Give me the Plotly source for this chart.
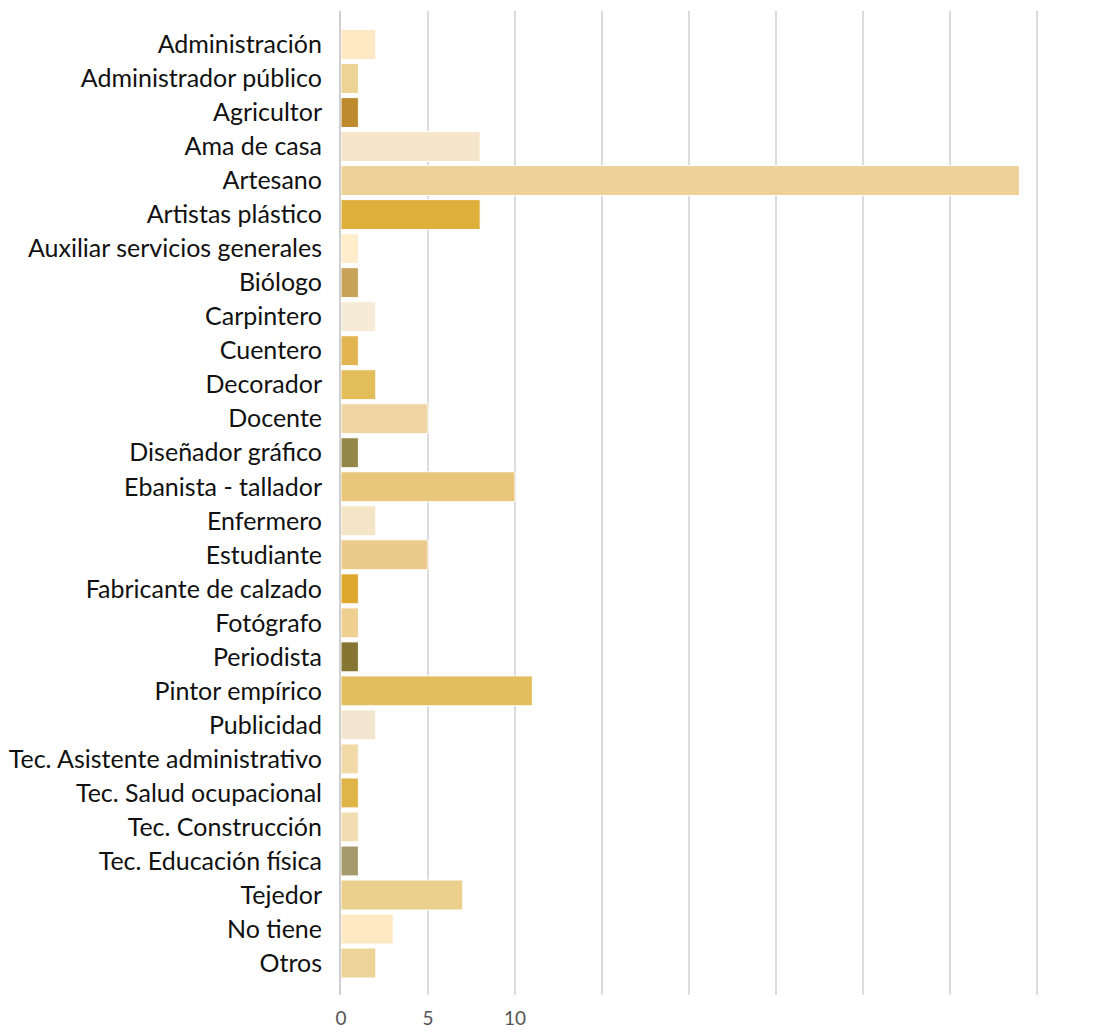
import plotly.graph_objects as go

ocupaciones = [
    "Administración", "Administrador público", "Agricultor", "Ama de casa",
    "Artesano", "Artistas plástico", "Auxiliar servicios generales", "Biólogo",
    "Carpintero", "Cuentero", "Decorador", "Docente", "Diseñador gráfico",
    "Ebanista - tallador", "Enfermero", "Estudiante", "Fabricante de calzado",
    "Fotógrafo", "Periodista", "Pintor empírico", "Publicidad",
    "Tec. Asistente administrativo", "Tec. Salud ocupacional",
    "Tec. Construcción", "Tec. Educación física", "Tejedor", "No tiene", "Otros",
]
cantidad = [2, 1, 1, 8, 39, 8, 1, 1, 2, 1, 2, 5, 1, 10, 2, 5, 1, 1, 1, 11,
            2, 1, 1, 1, 1, 7, 3, 2]
colores = [
    "#FFE8C4", "#EDD395", "#BE8A2E", "#F5E6CB", "#EDD197", "#DEAF3A",
    "#FFEDCC", "#C8A35A", "#F5EBD6", "#E2B552", "#E3BD5A", "#EFD5A3",
    "#938849", "#E8C77A", "#F5E5C7", "#EBCB8C", "#DEA82E", "#EFCF92",
    "#857432", "#E3BD5E", "#F3E6D0", "#F2D9A8", "#E0B548", "#F3DEB3",
    "#A59A6C", "#EBCF8D", "#FFE8C4", "#EDD397",
]
tick_vals = [0, 5, 10, 15, 20, 25, 30, 35, 40]
tick_text = ["0", "5", "10", "", "", "", "", "", ""]

fig = go.Figure()
fig.add_trace(go.Bar(
    x=cantidad,
    y=ocupaciones,
    orientation="h",
    marker=dict(color=colores, line=dict(color="white", width=1)),
    hoverinfo="x+y",
))

# pequeñas marcas en los extremos del eje vertical
for yy in [-0.985, 27.94]:
    fig.add_shape(type="line", xref="x", yref="y", x0=-0.46, x1=0,
                  y0=yy, y1=yy, line=dict(color="#cfcfcf", width=2))

fig.update_layout(
    width=1110, height=1024,
    margin=dict(l=333, r=29, t=3, b=37),
    plot_bgcolor="white", paper_bgcolor="white",
    bargap=0.12,
    showlegend=False,
    font=dict(family="Lato", color="#111111"),
    xaxis=dict(
        range=[0, 43], tickvals=tick_vals, ticktext=tick_text,
        showgrid=True, gridcolor="#dcdcdc", gridwidth=2,
        zeroline=False, showline=False, automargin=False,
        tickfont=dict(size=19, color="#555555"),
        ticks="", ticklabelstandoff=10,
    ),
    yaxis=dict(
        range=[27.94, -0.985], automargin=False,
        showline=True, linecolor="#cfcfcf", linewidth=2,
        showgrid=False, ticks="", ticklabelstandoff=12,
        tickfont=dict(size=25, color="#111111"),
    ),
)

fig.write_html("out.html")
